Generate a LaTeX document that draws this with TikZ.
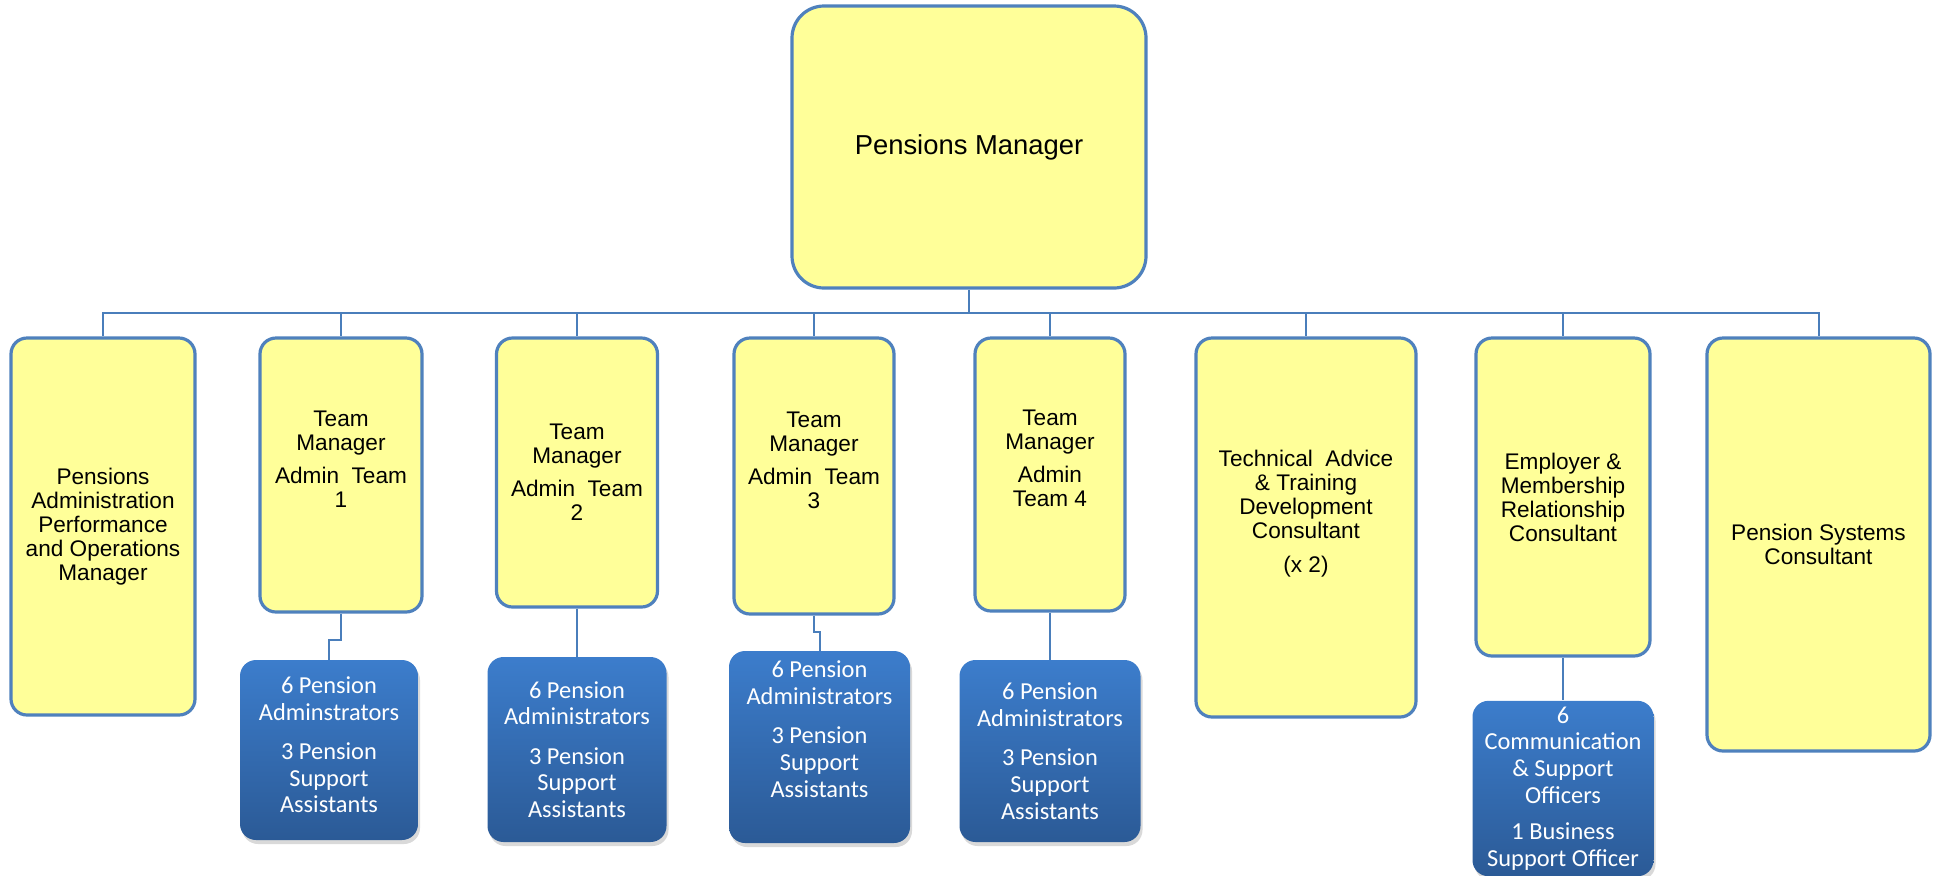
\documentclass[tikz,border=0pt]{standalone}
\usepackage{fontspec}
\setmainfont{Liberation Sans}
\newfontfamily\carlito{Carlito}
\usetikzlibrary{shadows}
\definecolor{paleyellow}{RGB}{255,255,153}
\definecolor{boxline}{RGB}{79,129,189}
\definecolor{linkline}{RGB}{74,126,187}
\definecolor{stafftop}{RGB}{60,125,204}
\definecolor{staffbot}{RGB}{43,90,150}
\tikzset{
	post/.style={draw=boxline, line width=1.6pt, fill=paleyellow, rounded corners=8pt, align=center, inner sep=3pt, font=\fontsize{11.3}{12}\selectfont},
	staff/.style={rounded corners=8pt, top color=stafftop, bottom color=staffbot, text=white, align=center, inner sep=3pt, font=\carlito\fontsize{12.2}{13.3}\selectfont, drop shadow={shadow xshift=1pt, shadow yshift=-2pt, opacity=0.3}},
	link/.style={draw=linkline, line width=1pt}
}

\begin{document}
\begin{tikzpicture}[x=0.5pt, y=-0.5pt]
			%%%%% START %%%%%
			\useasboundingbox (0,0) rectangle (1939,875);
			
			\node[post, minimum width=177pt, minimum height=141pt, rounded corners=16pt, font=\fontsize{13.7}{15}\selectfont] (pm) at (969,147) {Pensions Manager};
			
			\node[post, minimum width=92pt, minimum height=188.5pt] (pa) at (103,526.5) {Pensions\\Administration\\Performance\\and Operations\\Manager};
			\node[post, minimum width=81pt, minimum height=137pt] (tm1) at (341,475) {Team\\Manager\\[4.5pt]Admin\ \ Team\\1\\[4pt]\mbox{}};
			\node[post, minimum width=80.5pt, minimum height=134.5pt] (tm2) at (577,472.5) {Team\\Manager\\[4.5pt]Admin\ \ Team\\2};
			\node[post, minimum width=80pt, minimum height=138pt] (tm3) at (814,476) {Team\\Manager\\[4.5pt]Admin\ \ Team\\3\\[4pt]\mbox{}};
			\node[post, minimum width=75pt, minimum height=136.5pt] (tm4) at (1050,474.5) {Team\\Manager\\[4.5pt]Admin\\Team 4\\[4pt]\mbox{}};
			\node[post, minimum width=110pt, minimum height=189.5pt] (tech) at (1306,527.5) {Technical\ \ Advice\\\& Training\\Development\\Consultant\\[5pt](x 2)\\[4pt]\mbox{}};
			\node[post, minimum width=87pt, minimum height=159pt] (emp) at (1563,497) {Employer \&\\Membership\\Relationship\\Consultant};
			\node[post, minimum width=111.5pt, minimum height=206.5pt] (psc) at (1818.5,544.5) {Pension Systems\\Consultant};
			
			\node[staff, minimum width=89pt, minimum height=90pt] (s1) at (329,750) {6 Pension\\Adminstrators\\[6.5pt]3 Pension\\Support\\Assistants\\[-8pt]\mbox{}};
			\node[staff, minimum width=89.5pt, minimum height=92.5pt] (s2) at (577,749.5) {6 Pension\\Administrators\\[6.5pt]3 Pension\\Support\\Assistants};
			\node[staff, minimum width=90.5pt, minimum height=96pt] (s3) at (819.5,747) {6 Pension\\Administrators\\[6.5pt]3 Pension\\Support\\Assistants\\[4.7pt]\mbox{}};
			\node[staff, minimum width=90.5pt, minimum height=91pt] (s4) at (1050,751) {6 Pension\\Administrators\\[6.5pt]3 Pension\\Support\\Assistants};
			\node[staff, minimum width=90.5pt, minimum height=83.5pt] (s5) at (1563,788.5) {6\\Communication\\\& Support\\Officers\\[5pt]1 Business\\Support Officer};
			
			\coordinate (bus) at (969,313);
			\draw[link] (pm.south) -- (bus);
			\foreach \n in {pa,tm1,tm2,tm3,tm4,tech,emp,psc}
				\draw[link] (bus) -| (\n.north);
			
			\draw[link] (tm1.south) -- ++(0,26) -| (s1.north);
			\draw[link] (tm2.south) -- (s2.north);
			\draw[link] (tm3.south) -- ++(0,16) -| (s3.north);
			\draw[link] (tm4.south) -- (s4.north);
			\draw[link] (emp.south) -- (s5.north);
			
			%%%%% END %%%%%
\end{tikzpicture}
\end{document}
